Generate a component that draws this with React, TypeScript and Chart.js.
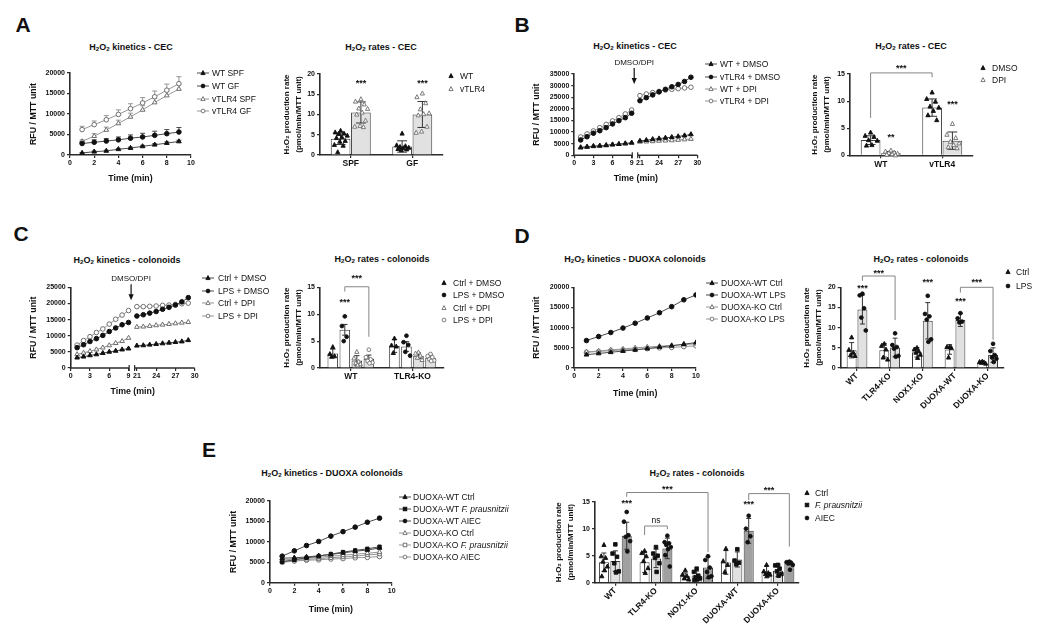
import React, { useEffect, useRef } from 'react';
import { Chart, registerables } from 'chart.js';

Chart.register(...registerables);

const FONT = "'Liberation Sans', Arial, Helvetica, sans-serif";
Chart.defaults.font.family = FONT;
Chart.defaults.color = '#111';

/* ======================= DATA ======================= */
// A – kinetics CEC
const timeA = [1, 2, 3, 4, 5, 6, 7, 8, 9];
const aWtSpf = [500, 800, 1000, 1400, 1700, 2100, 2500, 2900, 3300];
const aWtGf = [2800, 3100, 3400, 3700, 4100, 4400, 4800, 5200, 5600];
const aTlrSpf = [3300, 4600, 6100, 7700, 9300, 11000, 12800, 14500, 16100];
const aTlrGf = [6200, 7400, 8600, 9900, 11300, 12700, 14200, 15800, 17400];
const aWtSpfErr = [100, 150, 150, 200, 200, 250, 250, 300, 300];
const aWtGfErr = [500, 600, 600, 700, 800, 900, 1000, 1000, 1100];
const aTlrSpfErr = [400, 600, 700, 800, 900, 1000, 1000, 1100, 1100];
const aTlrGfErr = [800, 900, 1000, 1100, 1200, 1300, 1400, 1500, 1700];
// A – rates CEC
const catsA = ['SPF', 'GF'];
const aRateWtMean = [4.0, 2.1];
const aRateWtSd = [1.4, 1.4];
const aRateWtPts = [[6.0, 5.6, 5.3, 5.2, 4.8, 4.4, 4.2, 3.5, 3.3, 2.5, 2.3, 0.7], [5.3, 2.4, 2.2, 2.0, 1.8, 1.7, 1.5, 1.4, 1.2]];
const aRateTlrMean = [10.5, 10.0];
const aRateTlrSd = [2.6, 3.2];
const aRateTlrPts = [[13.8, 13.2, 12.5, 11.5, 11.4, 10.5, 10.0, 8.5, 7.2, 7.0, 6.9], [15.2, 14.3, 12.8, 11.3, 10.3, 10.1, 9.8, 7.0, 5.8, 5.5]];

// B – kinetics CEC (broken time axis)
const timeBC = [1, 2, 3, 4, 5, 6, 7, 8, 9, 21, 22, 23, 24, 25, 26, 27, 28, 29];
const bWtDmso = [3300, 3600, 3900, 4100, 4300, 4600, 4800, 5100, 5400, 6200, 6500, 6900, 7200, 7500, 7800, 8100, 8500, 9000];
const bTlrDmso = [6600, 8000, 9500, 10600, 11900, 13500, 14900, 16200, 18100, 23500, 24800, 26000, 27300, 28400, 29500, 30500, 31800, 33600];
const bWtDpi = [3500, 3700, 3900, 4100, 4300, 4600, 4800, 5000, 5300, 5800, 5900, 6000, 6200, 6300, 6400, 6600, 6800, 7000];
const bTlrDpi = [7900, 9200, 10500, 11900, 13300, 14800, 16200, 17800, 19500, 25700, 26400, 27000, 27500, 28100, 28400, 28700, 29000, 29300];
// B – rates CEC
const catsB = ['WT', 'vTLR4'];
const bRateDmsoMean = [2.8, 8.8];
const bRateDmsoSd = [0.8, 1.6];
const bRateDmsoPts = [[4.2, 3.6, 3.4, 2.8, 2.7, 1.9, 1.8], [11.6, 10.4, 9.9, 9.0, 8.8, 8.2, 7.4, 6.5]];
const bRateDpiMean = [0.4, 2.7];
const bRateDpiSd = [0.3, 1.6];
const bRateDpiPts = [[0.9, 0.7, 0.5, 0.4, 0.3, 0.2, 0.1, 0.0], [5.8, 3.8, 3.2, 2.5, 2.2, 1.9, 1.5, 1.3]];

// C – kinetics colonoids (broken time axis)
const cCtrlDmso = [3200, 3500, 3900, 4200, 4600, 5000, 5300, 5700, 6000, 6900, 7000, 7200, 7400, 7600, 7800, 8000, 8200, 8600];
const cLpsDmso = [6300, 7200, 8200, 9100, 10100, 11300, 12400, 13400, 14100, 16100, 16500, 17000, 17500, 18200, 18800, 19500, 20500, 21800];
const cCtrlDpi = [4200, 4700, 5200, 5700, 6300, 7000, 7700, 8300, 9300, 12700, 12800, 13000, 13200, 13400, 13600, 13800, 14000, 14200];
const cLpsDpi = [7100, 8500, 9700, 11000, 12100, 13600, 15100, 16400, 17800, 19000, 19000, 19100, 19200, 19400, 19500, 19700, 19900, 20100];
// C – rates colonoids
const catsC = ['WT', 'TLR4-KO'];
const cRateCtrlDmsoMean = [2.7, 4.1];
const cRateCtrlDmsoSd = [0.8, 1.2];
const cRateCtrlDmsoPts = [[3.9, 2.6, 2.2, 2.1], [5.5, 4.2, 4.0, 2.8]];
const cRateLpsDmsoMean = [7.1, 4.0];
const cRateLpsDmsoSd = [1.0, 0.9];
const cRateLpsDmsoPts = [[9.6, 7.8, 5.8, 5.0], [6.0, 4.8, 4.3, 3.0, 2.3]];
const cRateCtrlDpiMean = [1.4, 2.3];
const cRateCtrlDpiSd = [0.9, 0.5];
const cRateCtrlDpiPts = [[3.0, 1.8, 1.2, 0.9, 0.7, 0.5], [2.9, 2.7, 2.3, 1.9, 1.5]];
const cRateLpsDpiMean = [1.7, 1.9];
const cRateLpsDpiSd = [0.7, 0.5];
const cRateLpsDpiPts = [[3.4, 2.0, 1.6, 1.3, 1.0, 0.9], [2.6, 2.2, 2.0, 1.6, 1.4, 1.3]];

// D – kinetics DUOXA colonoids
const timeD = [1, 2, 3, 4, 5, 6, 7, 8, 9, 10];
const dWtCtrl = [3300, 3600, 3900, 4200, 4500, 4800, 5200, 5500, 5900, 6300];
const dWtLps = [6800, 7800, 8800, 9900, 11100, 12400, 13700, 15200, 16900, 18100];
const dKoCtrl = [4000, 4200, 4500, 4700, 5000, 5200, 5400, 5600, 5800, 6000];
const dKoLps = [3900, 4100, 4300, 4500, 4600, 4800, 5000, 5100, 5300, 5500];
// D – rates colonoids
const catsDE = ['WT', 'TLR4-KO', 'NOX1-KO', 'DUOXA-WT', 'DUOXA-KO'];
const dRateCtrlMean = [4.4, 4.4, 3.9, 4.6, 1.3];
const dRateCtrlSd = [1.9, 1.7, 1.2, 1.2, 0.2];
const dRateCtrlPts = [[7.6, 4.5, 3.8, 3.2, 3.0], [6.0, 5.5, 4.6, 2.6, 2.1], [5.0, 4.6, 4.2, 3.8, 3.3, 2.5], [5.2, 5.2, 5.0, 2.6], [1.6, 1.5, 1.4, 1.3, 1.1]];
const dRateLpsMean = [14.5, 5.1, 11.7, 11.9, 3.2];
const dRateLpsSd = [3.6, 2.3, 4.5, 1.6, 1.8];
const dRateLpsPts = [[18.4, 18.0, 14.8, 12.5, 9.3], [8.6, 5.7, 5.2, 4.8, 3.0, 2.8], [17.9, 13.4, 12.8, 12.0, 7.1, 6.5], [13.6, 12.3, 11.5, 11.3], [6.0, 4.2, 3.2, 2.6, 2.3, 1.5]];

// E – kinetics DUOXA colonoids
const timeE = [1, 2, 3, 4, 5, 6, 7, 8, 9];
const eWtCtrl = [6000, 6100, 6300, 6600, 6900, 7300, 7700, 8000, 8500];
const eWtFp = [5100, 5600, 6100, 6500, 7000, 7500, 7900, 8300, 8800];
const eWtAiec = [6500, 7800, 9100, 10100, 11400, 12500, 13600, 14800, 15800];
const eKoCtrl = [5500, 5800, 6000, 6200, 6500, 6700, 7000, 7200, 7500];
const eKoFp = [5200, 5500, 5700, 5900, 6100, 6300, 6500, 6800, 7000];
const eKoAiec = [5000, 5300, 5500, 5600, 5800, 5900, 6100, 6200, 6400];
// E – rates colonoids
const eRateCtrlMean = [3.8, 3.8, 1.2, 3.75, 2.0];
const eRateCtrlSd = [1.7, 1.9, 0.6, 2.2, 1.1];
const eRateCtrlPts = [[7.0, 4.9, 4.6, 3.9, 3.0, 2.3, 1.2], [5.9, 5.5, 4.9, 4.0, 2.7, 1.8], [2.3, 1.5, 1.2, 0.8, 0.6], [6.3, 4.0, 3.3, 2.0], [3.3, 2.1, 1.8, 1.6, 1.5, 1.3]];
const eRateFpMean = [4.0, 4.5, 1.35, 4.3, 2.2];
const eRateFpSd = [1.9, 1.7, 0.8, 1.4, 1.1];
const eRateFpPts = [[7.1, 5.4, 4.8, 3.6, 2.1, 1.9], [6.6, 5.4, 5.0, 4.6, 3.6, 2.0], [2.6, 2.0, 1.3, 1.0, 0.8, 0.6, 0.5], [6.2, 4.1, 3.7, 3.4], [3.3, 3.2, 2.6, 2.1, 1.6, 1.3]];
const eRateAiecMean = [8.7, 6.35, 2.8, 9.6, 3.6];
const eRateAiecSd = [2.5, 1.9, 2.0, 2.3, 0.3];
const eRateAiecPts = [[13.1, 11.3, 8.8, 8.5, 7.7, 5.8], [8.7, 7.5, 7.3, 7.0, 6.6, 6.2, 5.1, 3.0], [4.9, 4.2, 2.8, 2.0, 1.2, 1.0], [12.4, 10.0, 8.6, 7.5], [3.9, 3.8, 3.7, 3.6, 3.3, 2.4]];

// axis tick values
const ticks0to10 = [0, 2, 4, 6, 8, 10];
const brokenTickLabels = [0, 3, 6, 9, 21, 24, 27, 30];
const BREAK_SHIFT = 10.7;

// legend labels
const legA = ['WT SPF', 'WT GF', 'vTLR4 SPF', 'vTLR4 GF'];
const legArate = ['WT', 'vTLR4'];
const legB = ['WT + DMSO', 'vTLR4 + DMSO', 'WT + DPI', 'vTLR4 + DPI'];
const legBrate = ['DMSO', 'DPI'];
const legC = ['Ctrl + DMSO', 'LPS + DMSO', 'Ctrl + DPI', 'LPS + DPI'];
const legD = ['DUOXA-WT Ctrl', 'DUOXA-WT LPS', 'DUOXA-KO Ctrl', 'DUOXA-KO LPS'];
const legDrate = ['Ctrl', 'LPS'];

/* ======================= STYLE ======================= */
const AX = '#2b2b2b';
const INK = '#111';
const OPEN_STROKE = '#6e6e6e';
const LINE_DARK = '#4a4a4a';
const LINE_LIGHT = '#969696';
const BAR_EDGE = '#3a3a3a';
const FILL_WHITE = '#ffffff';
const FILL_LIGHT = '#e1e1e1';
const FILL_DARK = '#a0a0a0';
const BRACKET = '#858585';
const TICK_FONT: any = { size: 7, weight: 'bold' };
const AXIS_TITLE_FONT: any = { size: 8.8, weight: 'bold', lineHeight: 1.2 };
const RATE_TITLE_FONT: any = { size: 8, weight: 'bold', lineHeight: 1.5 };
const RATE_LH = 12;
const RATE_YTITLE = ['H\u2082O\u2082 production rate', '(pmol/min/MTT unit)'];

type Shape = 'triangle' | 'circle' | 'rect';

function drawMarker(ctx: CanvasRenderingContext2D, shape: Shape, x: number, y: number, r: number, fill: string, stroke: string) {
  ctx.beginPath();
  if (shape === 'triangle') {
    ctx.moveTo(x, y - r * 1.15);
    ctx.lineTo(x + r, y + r * 0.75);
    ctx.lineTo(x - r, y + r * 0.75);
    ctx.closePath();
  } else if (shape === 'rect') {
    ctx.rect(x - r * 0.85, y - r * 0.85, r * 1.7, r * 1.7);
  } else {
    ctx.arc(x, y, r * 0.9, 0, Math.PI * 2);
  }
  ctx.fillStyle = fill;
  ctx.fill();
  ctx.lineWidth = 0.9;
  ctx.strokeStyle = stroke;
  ctx.stroke();
}

/* ======================= LAYOUT HELPERS ======================= */
type Frame = { left: number; top: number; width: number; height: number; yW: number; xH: number; padTop: number; padRight: number };

function frame(L: number, T: number, R: number, B: number, yTitleX: number, yLh: number, bottomH: number, padTop: number, padRight: number): Frame {
  const left = Math.round(yTitleX - yLh / 2);
  const top = Math.round(T - padTop);
  const width = Math.round(R + padRight - left);
  const height = Math.round(B + bottomH - top);
  return { left, top, width, height, yW: L - left, xH: top + height - B, padTop: T - top, padRight: left + width - R };
}

const gridOpts = { display: true, drawOnChartArea: false, drawTicks: true, tickLength: 3, color: AX, lineWidth: 1.2 };

function common(f: Frame) {
  return {
    responsive: false,
    animation: false,
    devicePixelRatio: 1,
    events: [],
    layout: { padding: { left: 0, top: f.padTop, right: f.padRight, bottom: 0 } },
    plugins: { legend: { display: false }, tooltip: { enabled: false }, title: { display: false } },
  };
}

function yAxis(f: Frame, max: number, step: number, title: any, titleFont: any) {
  return {
    type: 'linear',
    min: 0,
    max,
    ticks: { stepSize: step, font: TICK_FONT, padding: 2, color: INK, callback: (v: any) => String(v) },
    grid: gridOpts,
    border: { display: true, color: AX, width: 1.6 },
    title: { display: true, text: title, font: titleFont, padding: 0, color: INK },
    afterFit: (s: any) => { s.width = f.yW; },
  };
}

function xLinear(f: Frame, max: number, tickVals: number[], label: (v: number) => string, showBorder: boolean) {
  return {
    type: 'linear',
    min: 0,
    max,
    afterBuildTicks: (s: any) => { s.ticks = tickVals.map((v) => ({ value: v })); },
    ticks: { font: TICK_FONT, padding: 1, color: INK, maxRotation: 0, autoSkip: false, callback: (v: any) => label(Number(v)) },
    grid: gridOpts,
    border: { display: showBorder, color: AX, width: 1.6 },
    title: { display: true, text: 'Time (min)', font: AXIS_TITLE_FONT, padding: 0, color: INK },
    afterFit: (s: any) => { s.height = f.xH; },
  };
}

function xCat(f: Frame, rotate: boolean) {
  return {
    type: 'category',
    offset: true,
    ticks: { font: { size: 8.5, weight: 'bold' }, color: INK, padding: rotate ? 0 : 1, autoSkip: false, minRotation: rotate ? 45 : 0, maxRotation: rotate ? 45 : 0 },
    grid: { ...gridOpts, offset: false },
    border: { display: true, color: AX, width: 1.6 },
    afterFit: (s: any) => { s.height = f.xH; },
  };
}

type KSeries = { y: number[]; err?: number[]; shape: Shape; filled: boolean };

function kinDatasets(times: number[], series: KSeries[], conv: (t: number) => number, gapX?: number) {
  return series.map((s) => {
    const pts: any[] = [];
    times.forEach((t, i) => {
      if (gapX !== undefined && i > 0 && conv(times[i - 1]) < gapX && conv(t) > gapX) pts.push({ x: gapX, y: null });
      pts.push({ x: conv(t), y: s.y[i], e: s.err ? s.err[i] : 0 });
    });
    return {
      data: pts,
      showLine: true,
      spanGaps: false,
      borderColor: s.filled ? LINE_DARK : LINE_LIGHT,
      borderWidth: 1,
      pointStyle: s.shape,
      pointRadius: s.shape === 'circle' ? 2.3 : s.shape === 'rect' ? 2.4 : 2.7,
      pointBackgroundColor: s.filled ? INK : '#fff',
      pointBorderColor: s.filled ? INK : OPEN_STROKE,
      pointBorderWidth: 1,
    };
  });
}

function kinDecor(broken?: [number, number][], arrow?: { x: number; tip: number; text: string }) {
  return {
    id: 'kinDecor',
    beforeDatasetsDraw(chart: any) {
      const ctx = chart.ctx;
      const ys = chart.scales.y;
      ctx.save();
      chart.data.datasets.forEach((ds: any, di: number) => {
        const meta = chart.getDatasetMeta(di);
        meta.data.forEach((pt: any, j: number) => {
          const raw = ds.data[j];
          if (!raw || raw.y == null || !raw.e) return;
          const yTop = ys.getPixelForValue(raw.y + raw.e);
          ctx.strokeStyle = ds.borderColor;
          ctx.lineWidth = 1;
          ctx.beginPath();
          ctx.moveTo(pt.x, pt.y);
          ctx.lineTo(pt.x, yTop);
          ctx.moveTo(pt.x - 2.5, yTop);
          ctx.lineTo(pt.x + 2.5, yTop);
          ctx.stroke();
        });
      });
      ctx.restore();
    },
    afterDraw(chart: any) {
      const ctx = chart.ctx;
      const xs = chart.scales.x;
      const ys = chart.scales.y;
      const yb = chart.chartArea.bottom;
      ctx.save();
      if (broken) {
        ctx.strokeStyle = AX;
        ctx.lineWidth = 1.6;
        broken.forEach(([a, b]) => {
          ctx.beginPath();
          ctx.moveTo(xs.getPixelForValue(a) - (a === 0 ? 0.8 : 0), yb);
          ctx.lineTo(xs.getPixelForValue(b), yb);
          ctx.stroke();
        });
        ctx.lineWidth = 1.2;
        broken.forEach(([a, b], i) => {
          const e = xs.getPixelForValue(i === 0 ? b : a);
          ctx.beginPath();
          ctx.moveTo(e, yb - 3);
          ctx.lineTo(e, yb + 3);
          ctx.stroke();
        });
      }
      if (arrow) {
        const ax = xs.getPixelForValue(arrow.x);
        const tipY = ys.getPixelForValue(arrow.tip);
        const tailY = tipY - 16;
        ctx.strokeStyle = INK;
        ctx.fillStyle = INK;
        ctx.lineWidth = 1.2;
        ctx.beginPath();
        ctx.moveTo(ax, tailY);
        ctx.lineTo(ax, tipY - 4);
        ctx.stroke();
        ctx.beginPath();
        ctx.moveTo(ax, tipY);
        ctx.lineTo(ax - 2.6, tipY - 6);
        ctx.lineTo(ax + 2.6, tipY - 6);
        ctx.closePath();
        ctx.fill();
        ctx.font = `8px ${FONT}`;
        ctx.textAlign = 'center';
        ctx.textBaseline = 'middle';
        ctx.fillText(arrow.text, ax, tailY - 5.5);
      }
      ctx.restore();
    },
  };
}

type RGroup = { mean: number[]; sd: number[]; pts: number[][]; fill: string; shape: Shape; filled: boolean };

function rateDatasets(groups: RGroup[], catPct: number, barPct: number) {
  return groups.map((g) => ({
    type: 'bar',
    data: g.mean,
    backgroundColor: g.fill,
    borderColor: BAR_EDGE,
    borderWidth: 1,
    categoryPercentage: catPct,
    barPercentage: barPct,
    sd: g.sd,
    pts: g.pts,
    shape: g.shape,
    dotFill: g.filled ? INK : '#fff',
    dotStroke: g.filled ? INK : OPEN_STROKE,
  }));
}

type Bracket = { a: [number, number]; b: [number, number]; top: number; aEnd: number; bEnd: number; text: string; textY: number };
type Star = { at: [number, number]; y: number; text: string };

function rateDecor(brackets: Bracket[], stars: Star[]) {
  return {
    id: 'rateDecor',
    afterDatasetsDraw(chart: any) {
      const ctx = chart.ctx;
      const ys = chart.scales.y;
      const barX = (d: number, c: number) => chart.getDatasetMeta(d).data[c].x;
      ctx.save();
      chart.data.datasets.forEach((ds: any, di: number) => {
        const meta = chart.getDatasetMeta(di);
        meta.data.forEach((bar: any, ci: number) => {
          const x = bar.x;
          const w = bar.width;
          const m = ds.data[ci];
          const sd = ds.sd[ci];
          const yT = ys.getPixelForValue(m + sd);
          const yB = ys.getPixelForValue(Math.max(0, m - sd));
          const cw = Math.max(2, w * 0.25);
          ctx.strokeStyle = '#333';
          ctx.lineWidth = 1;
          ctx.beginPath();
          ctx.moveTo(x, yB);
          ctx.lineTo(x, yT);
          ctx.moveTo(x - cw, yT);
          ctx.lineTo(x + cw, yT);
          ctx.moveTo(x - cw, yB);
          ctx.lineTo(x + cw, yB);
          ctx.stroke();
          ds.pts[ci].forEach((v: number, k: number) => {
            const off = (((k * 0.618 + 0.5) % 1) - 0.5) * 0.72 * w;
            drawMarker(ctx, ds.shape, x + off, ys.getPixelForValue(v), 2.1, ds.dotFill, ds.dotStroke);
          });
        });
      });
      ctx.textAlign = 'center';
      ctx.textBaseline = 'middle';
      brackets.forEach((br) => {
        const xa = barX(br.a[0], br.a[1]);
        const xb = barX(br.b[0], br.b[1]);
        const yt = ys.getPixelForValue(br.top);
        ctx.strokeStyle = BRACKET;
        ctx.lineWidth = 1;
        ctx.beginPath();
        ctx.moveTo(xa, ys.getPixelForValue(br.aEnd));
        ctx.lineTo(xa, yt);
        ctx.lineTo(xb, yt);
        ctx.lineTo(xb, ys.getPixelForValue(br.bEnd));
        ctx.stroke();
        const isStar = br.text.indexOf('*') >= 0;
        ctx.fillStyle = INK;
        ctx.font = isStar ? `bold 9px ${FONT}` : `8.5px ${FONT}`;
        ctx.fillText(br.text, (xa + xb) / 2, ys.getPixelForValue(br.textY) + (isStar ? 2 : 0));
      });
      stars.forEach((s) => {
        ctx.fillStyle = INK;
        ctx.font = `bold 9px ${FONT}`;
        ctx.fillText(s.text, barX(s.at[0], s.at[1]), ys.getPixelForValue(s.y) + 2);
      });
      ctx.restore();
    },
  };
}

/* ======================= CHART DEFINITIONS ======================= */
const toBroken = (t: number) => (t <= 9.5 ? t : t - BREAK_SHIFT);
const brokenLabel = (v: number) => String(v <= 9.5 ? Math.round(v) : Math.round(v + BREAK_SHIFT));
const brokenSegs: [number, number][] = [[0, 9.1], [9.95, toBroken(30)]];

const fA1 = frame(70, 73, 191, 155, 33, 10.56, 29.3, 8, 8);
const makeA1 = (f: Frame) => ({
  type: 'scatter',
  data: {
    datasets: kinDatasets(timeA, [
      { y: aWtSpf, err: aWtSpfErr, shape: 'triangle', filled: true },
      { y: aWtGf, err: aWtGfErr, shape: 'circle', filled: true },
      { y: aTlrSpf, err: aTlrSpfErr, shape: 'triangle', filled: false },
      { y: aTlrGf, err: aTlrGfErr, shape: 'circle', filled: false },
    ], (t) => t),
  },
  options: { ...common(f), scales: { x: xLinear(f, 10, ticks0to10, (v) => String(v), true), y: yAxis(f, 20000, 5000, 'RFU / MTT unit', AXIS_TITLE_FONT) } },
  plugins: [kinDecor()],
});

const fA2 = frame(320, 74, 443, 155, 287, RATE_LH, 22, 14, 4);
const makeA2 = (f: Frame) => ({
  type: 'bar',
  data: {
    labels: catsA,
    datasets: rateDatasets([
      { mean: aRateWtMean, sd: aRateWtSd, pts: aRateWtPts, fill: FILL_WHITE, shape: 'triangle', filled: true },
      { mean: aRateTlrMean, sd: aRateTlrSd, pts: aRateTlrPts, fill: FILL_LIGHT, shape: 'triangle', filled: false },
    ], 0.66, 0.97),
  },
  options: { ...common(f), scales: { x: xCat(f, false), y: yAxis(f, 20, 5, RATE_YTITLE, RATE_TITLE_FONT) } },
  plugins: [rateDecor([], [{ at: [1, 0], y: 18.1, text: '***' }, { at: [1, 1], y: 18.1, text: '***' }])],
});

const fB1 = frame(574.3, 74, 697.3, 155.3, 536.3, 10.56, 29, 24, 8);
const makeB1 = (f: Frame) => ({
  type: 'scatter',
  data: {
    datasets: kinDatasets(timeBC, [
      { y: bWtDmso, shape: 'triangle', filled: true },
      { y: bTlrDmso, shape: 'circle', filled: true },
      { y: bWtDpi, shape: 'triangle', filled: false },
      { y: bTlrDpi, shape: 'circle', filled: false },
    ], toBroken, 9.5),
  },
  options: { ...common(f), scales: { x: xLinear(f, toBroken(30), brokenTickLabels.map(toBroken), brokenLabel, false), y: yAxis(f, 35000, 5000, 'RFU / MTT unit', AXIS_TITLE_FONT) } },
  plugins: [kinDecor(brokenSegs, { x: 9.4, tip: 30700, text: 'DMSO/DPI' })],
});

const fB2 = frame(850, 74, 973, 155.3, 815, RATE_LH, 22, 22, 4);
const makeB2 = (f: Frame) => ({
  type: 'bar',
  data: {
    labels: catsB,
    datasets: rateDatasets([
      { mean: bRateDmsoMean, sd: bRateDmsoSd, pts: bRateDmsoPts, fill: FILL_WHITE, shape: 'triangle', filled: true },
      { mean: bRateDpiMean, sd: bRateDpiSd, pts: bRateDpiPts, fill: FILL_LIGHT, shape: 'triangle', filled: false },
    ], 0.66, 0.97),
  },
  options: { ...common(f), scales: { x: xCat(f, false), y: yAxis(f, 15, 5, RATE_YTITLE, RATE_TITLE_FONT) } },
  plugins: [rateDecor(
    [{ a: [0, 0], b: [0, 1], top: 15.2, aEnd: 6.9, bEnd: 14.4, text: '***', textY: 16.3 }],
    [{ at: [1, 0], y: 3.7, text: '**' }, { at: [1, 1], y: 9.7, text: '***' }],
  )],
});

const fC1 = frame(70.7, 287.3, 194.7, 368, 33, 10.56, 29.3, 24, 8);
const makeC1 = (f: Frame) => ({
  type: 'scatter',
  data: {
    datasets: kinDatasets(timeBC, [
      { y: cCtrlDmso, shape: 'triangle', filled: true },
      { y: cLpsDmso, shape: 'circle', filled: true },
      { y: cCtrlDpi, shape: 'triangle', filled: false },
      { y: cLpsDpi, shape: 'circle', filled: false },
    ], toBroken, 9.5),
  },
  options: { ...common(f), scales: { x: xLinear(f, toBroken(30), brokenTickLabels.map(toBroken), brokenLabel, false), y: yAxis(f, 25000, 5000, 'RFU / MTT unit', AXIS_TITLE_FONT) } },
  plugins: [kinDecor(brokenSegs, { x: 9.4, tip: 21000, text: 'DMSO/DPI' })],
});

const fC2 = frame(320, 287.3, 443.3, 368, 287, RATE_LH, 22, 26, 4);
const makeC2 = (f: Frame) => ({
  type: 'bar',
  data: {
    labels: catsC,
    datasets: rateDatasets([
      { mean: cRateCtrlDmsoMean, sd: cRateCtrlDmsoSd, pts: cRateCtrlDmsoPts, fill: FILL_WHITE, shape: 'triangle', filled: true },
      { mean: cRateLpsDmsoMean, sd: cRateLpsDmsoSd, pts: cRateLpsDmsoPts, fill: FILL_WHITE, shape: 'circle', filled: true },
      { mean: cRateCtrlDpiMean, sd: cRateCtrlDpiSd, pts: cRateCtrlDpiPts, fill: FILL_LIGHT, shape: 'triangle', filled: false },
      { mean: cRateLpsDpiMean, sd: cRateLpsDpiSd, pts: cRateLpsDpiPts, fill: FILL_LIGHT, shape: 'circle', filled: false },
    ], 0.78, 0.88),
  },
  options: { ...common(f), scales: { x: xCat(f, false), y: yAxis(f, 15, 5, RATE_YTITLE, RATE_TITLE_FONT) } },
  plugins: [rateDecor(
    [{ a: [1, 0], b: [3, 0], top: 15.1, aEnd: 14.2, bEnd: 5.8, text: '***', textY: 17.0 }],
    [{ at: [1, 0], y: 12.6, text: '***' }],
  )],
});

const fD1 = frame(574.3, 287.3, 696, 368, 536.3, 10.56, 31.3, 8, 8);
const makeD1 = (f: Frame) => ({
  type: 'scatter',
  data: {
    datasets: kinDatasets(timeD, [
      { y: dWtCtrl, shape: 'triangle', filled: true },
      { y: dWtLps, shape: 'circle', filled: true },
      { y: dKoCtrl, shape: 'triangle', filled: false },
      { y: dKoLps, shape: 'circle', filled: false },
    ], (t) => t),
  },
  options: { ...common(f), scales: { x: xLinear(f, 10, ticks0to10, (v) => String(v), true), y: yAxis(f, 20000, 5000, 'RFU / MTT unit', AXIS_TITLE_FONT) } },
  plugins: [kinDecor()],
});

const fD2 = frame(840.7, 287.3, 1004, 368, 807, RATE_LH, 48, 28, 4);
const makeD2 = (f: Frame) => ({
  type: 'bar',
  data: {
    labels: catsDE,
    datasets: rateDatasets([
      { mean: dRateCtrlMean, sd: dRateCtrlSd, pts: dRateCtrlPts, fill: FILL_WHITE, shape: 'triangle', filled: true },
      { mean: dRateLpsMean, sd: dRateLpsSd, pts: dRateLpsPts, fill: FILL_LIGHT, shape: 'circle', filled: true },
    ], 0.66, 0.92),
  },
  options: { ...common(f), scales: { x: xCat(f, true), y: yAxis(f, 20, 5, RATE_YTITLE, RATE_TITLE_FONT) } },
  plugins: [rateDecor(
    [
      { a: [1, 0], b: [1, 1], top: 22.8, aEnd: 21.6, bEnd: 11.9, text: '***', textY: 23.9 },
      { a: [1, 3], b: [1, 4], top: 20.0, aEnd: 18.7, bEnd: 7.0, text: '***', textY: 21.7 },
    ],
    [{ at: [1, 0], y: 20.1, text: '***' }, { at: [1, 2], y: 21.6, text: '***' }, { at: [1, 3], y: 17.0, text: '***' }],
  )],
});

const fE1 = frame(270, 501, 391.7, 582.7, 233.3, 10.56, 31.9, 8, 8);
const makeE1 = (f: Frame) => ({
  type: 'scatter',
  data: {
    datasets: kinDatasets(timeE, [
      { y: eWtCtrl, shape: 'triangle', filled: true },
      { y: eWtFp, shape: 'rect', filled: true },
      { y: eWtAiec, shape: 'circle', filled: true },
      { y: eKoCtrl, shape: 'triangle', filled: false },
      { y: eKoFp, shape: 'rect', filled: false },
      { y: eKoAiec, shape: 'circle', filled: false },
    ], (t) => t),
  },
  options: { ...common(f), scales: { x: xLinear(f, 10, ticks0to10, (v) => String(v), true), y: yAxis(f, 20000, 5000, 'RFU / MTT unit', AXIS_TITLE_FONT) } },
  plugins: [kinDecor()],
});

const fE2 = frame(595, 501.7, 798.3, 582.7, 559, RATE_LH, 55, 24, 4);
const makeE2 = (f: Frame) => ({
  type: 'bar',
  data: {
    labels: catsDE,
    datasets: rateDatasets([
      { mean: eRateCtrlMean, sd: eRateCtrlSd, pts: eRateCtrlPts, fill: FILL_WHITE, shape: 'triangle', filled: true },
      { mean: eRateFpMean, sd: eRateFpSd, pts: eRateFpPts, fill: FILL_LIGHT, shape: 'rect', filled: true },
      { mean: eRateAiecMean, sd: eRateAiecSd, pts: eRateAiecPts, fill: FILL_DARK, shape: 'circle', filled: true },
    ], 0.84, 0.88),
  },
  options: { ...common(f), scales: { x: xCat(f, true), y: yAxis(f, 15, 5, RATE_YTITLE, RATE_TITLE_FONT) } },
  plugins: [rateDecor(
    [
      { a: [2, 0], b: [2, 2], top: 16.7, aEnd: 15.9, bEnd: 5.7, text: '***', textY: 17.6 },
      { a: [0, 1], b: [2, 1], top: 10.5, aEnd: 8.8, bEnd: 9.9, text: 'ns', textY: 11.5 },
      { a: [2, 3], b: [2, 4], top: 16.5, aEnd: 15.3, bEnd: 6.7, text: '***', textY: 17.4 },
    ],
    [{ at: [2, 0], y: 15.1, text: '***' }, { at: [2, 3], y: 14.8, text: '***' }],
  )],
});

/* ======================= COMPONENTS ======================= */
function ChartCanvas({ f, make }: { f: Frame; make: (f: Frame) => any }) {
  const ref = useRef<HTMLCanvasElement>(null);
  useEffect(() => {
    const c = new Chart(ref.current as HTMLCanvasElement, make(f));
    return () => c.destroy();
  }, []);
  return (
    <canvas
      ref={ref}
      width={f.width}
      height={f.height}
      style={{ position: 'absolute', left: f.left, top: f.top, width: f.width, height: f.height }}
    />
  );
}

const SUB: React.CSSProperties = { fontSize: '0.68em', verticalAlign: '-0.3em', lineHeight: 0 };

function Txt({ x, y, children, size = 9, bold = true }: any) {
  return (
    <div
      style={{
        position: 'absolute', left: x, top: y, transform: 'translate(-50%, -50%)',
        font: `${bold ? 'bold ' : ''}${size}px ${FONT}`, lineHeight: 1, whiteSpace: 'nowrap', color: INK,
      }}
    >
      {children}
    </div>
  );
}

function H2O2Title({ x, y, rest }: { x: number; y: number; rest: string }) {
  return (
    <Txt x={x} y={y}>
      H<span style={SUB}>2</span>O<span style={SUB}>2</span>{rest}
    </Txt>
  );
}

function MarkerSvg({ shape, filled, cx, cy, r }: { shape: Shape; filled: boolean; cx: number; cy: number; r: number }) {
  const fill = filled ? INK : '#fff';
  const stroke = filled ? INK : OPEN_STROKE;
  if (shape === 'triangle') {
    return <polygon points={`${cx},${cy - r * 1.15} ${cx + r},${cy + r * 0.75} ${cx - r},${cy + r * 0.75}`} fill={fill} stroke={stroke} strokeWidth={0.9} />;
  }
  if (shape === 'rect') {
    return <rect x={cx - r * 0.85} y={cy - r * 0.85} width={r * 1.7} height={r * 1.7} fill={fill} stroke={stroke} strokeWidth={0.9} />;
  }
  return <circle cx={cx} cy={cy} r={r * 0.9} fill={fill} stroke={stroke} strokeWidth={0.9} />;
}

type LegItem = { label: React.ReactNode; shape: Shape; filled: boolean };

function Legend({ mx, tx, ys, items, line }: { mx: number; tx: number; ys: number[]; items: LegItem[]; line: boolean }) {
  return (
    <>
      {items.map((it, i) => (
        <React.Fragment key={i}>
          <svg style={{ position: 'absolute', left: mx - 9, top: ys[i] - 5 }} width={18} height={10}>
            {line && <line x1={3} y1={5} x2={15} y2={5} stroke={it.filled ? LINE_DARK : LINE_LIGHT} strokeWidth={1} />}
            <MarkerSvg shape={it.shape} filled={it.filled} cx={9} cy={5} r={2.1} />
          </svg>
          <div
            style={{
              position: 'absolute', left: tx, top: ys[i], transform: 'translateY(-50%)',
              font: `8.5px ${FONT}`, lineHeight: 1, whiteSpace: 'nowrap', color: INK,
            }}
          >
            {it.label}
          </div>
        </React.Fragment>
      ))}
    </>
  );
}

const fp = <i>F. prausnitzii</i>;

export default function App() {
  return (
    <div style={{ position: 'absolute', left: 0, top: 0, width: 1050, height: 640, background: '#fff', overflow: 'hidden', fontFamily: FONT }}>
      {/* panel letters */}
      <Txt x={23} y={24} size={21}>A</Txt>
      <Txt x={522} y={24} size={21}>B</Txt>
      <Txt x={21} y={233} size={21}>C</Txt>
      <Txt x={522} y={235} size={21}>D</Txt>
      <Txt x={209} y={449} size={21}>E</Txt>

      {/* titles */}
      <H2O2Title x={131} y={47} rest=" kinetics - CEC" />
      <H2O2Title x={381} y={47} rest=" rates - CEC" />
      <H2O2Title x={635} y={46} rest=" kinetics - CEC" />
      <H2O2Title x={911} y={46} rest=" rates - CEC" />
      <H2O2Title x={127} y={260} rest=" kinetics - colonoids" />
      <H2O2Title x={382} y={259} rest=" rates - colonoids" />
      <H2O2Title x={635} y={259} rest=" kinetics - DUOXA colonoids" />
      <H2O2Title x={921} y={259} rest=" rates - colonoids" />
      <H2O2Title x={332} y={473} rest=" kinetics - DUOXA colonoids" />
      <H2O2Title x={697} y={473} rest=" rates - colonoids" />

      {/* charts */}
      <ChartCanvas f={fA1} make={makeA1} />
      <ChartCanvas f={fA2} make={makeA2} />
      <ChartCanvas f={fB1} make={makeB1} />
      <ChartCanvas f={fB2} make={makeB2} />
      <ChartCanvas f={fC1} make={makeC1} />
      <ChartCanvas f={fC2} make={makeC2} />
      <ChartCanvas f={fD1} make={makeD1} />
      <ChartCanvas f={fD2} make={makeD2} />
      <ChartCanvas f={fE1} make={makeE1} />
      <ChartCanvas f={fE2} make={makeE2} />

      {/* legends */}
      <Legend mx={203} tx={212} ys={[73, 86, 99, 111]} line items={[
        { label: legA[0], shape: 'triangle', filled: true },
        { label: legA[1], shape: 'circle', filled: true },
        { label: legA[2], shape: 'triangle', filled: false },
        { label: legA[3], shape: 'circle', filled: false },
      ]} />
      <Legend mx={451} tx={460} ys={[76, 89]} line={false} items={[
        { label: legArate[0], shape: 'triangle', filled: true },
        { label: legArate[1], shape: 'triangle', filled: false },
      ]} />
      <Legend mx={711} tx={720} ys={[64, 77, 89, 101]} line items={[
        { label: legB[0], shape: 'triangle', filled: true },
        { label: legB[1], shape: 'circle', filled: true },
        { label: legB[2], shape: 'triangle', filled: false },
        { label: legB[3], shape: 'circle', filled: false },
      ]} />
      <Legend mx={983} tx={992} ys={[68, 80]} line={false} items={[
        { label: legBrate[0], shape: 'triangle', filled: true },
        { label: legBrate[1], shape: 'triangle', filled: false },
      ]} />
      <Legend mx={208} tx={218} ys={[278, 291, 303, 316]} line items={[
        { label: legC[0], shape: 'triangle', filled: true },
        { label: legC[1], shape: 'circle', filled: true },
        { label: legC[2], shape: 'triangle', filled: false },
        { label: legC[3], shape: 'circle', filled: false },
      ]} />
      <Legend mx={444} tx={453} ys={[283, 295, 308, 320]} line={false} items={[
        { label: legC[0], shape: 'triangle', filled: true },
        { label: legC[1], shape: 'circle', filled: true },
        { label: legC[2], shape: 'triangle', filled: false },
        { label: legC[3], shape: 'circle', filled: false },
      ]} />
      <Legend mx={712} tx={721} ys={[283, 295, 307, 319]} line items={[
        { label: legD[0], shape: 'triangle', filled: true },
        { label: legD[1], shape: 'circle', filled: true },
        { label: legD[2], shape: 'triangle', filled: false },
        { label: legD[3], shape: 'circle', filled: false },
      ]} />
      <Legend mx={1008} tx={1016} ys={[272, 286]} line={false} items={[
        { label: legDrate[0], shape: 'triangle', filled: true },
        { label: legDrate[1], shape: 'circle', filled: true },
      ]} />
      <Legend mx={405} tx={413} ys={[497, 509, 521, 533, 545, 557]} line items={[
        { label: 'DUOXA-WT Ctrl', shape: 'triangle', filled: true },
        { label: <>DUOXA-WT {fp}</>, shape: 'rect', filled: true },
        { label: 'DUOXA-WT AIEC', shape: 'circle', filled: true },
        { label: 'DUOXA-KO Ctrl', shape: 'triangle', filled: false },
        { label: <>DUOXA-KO {fp}</>, shape: 'rect', filled: false },
        { label: 'DUOXA-KO AIEC', shape: 'circle', filled: false },
      ]} />
      <Legend mx={807} tx={815} ys={[493, 505, 518]} line={false} items={[
        { label: 'Ctrl', shape: 'triangle', filled: true },
        { label: fp, shape: 'rect', filled: true },
        { label: 'AIEC', shape: 'circle', filled: true },
      ]} />
    </div>
  );
}
